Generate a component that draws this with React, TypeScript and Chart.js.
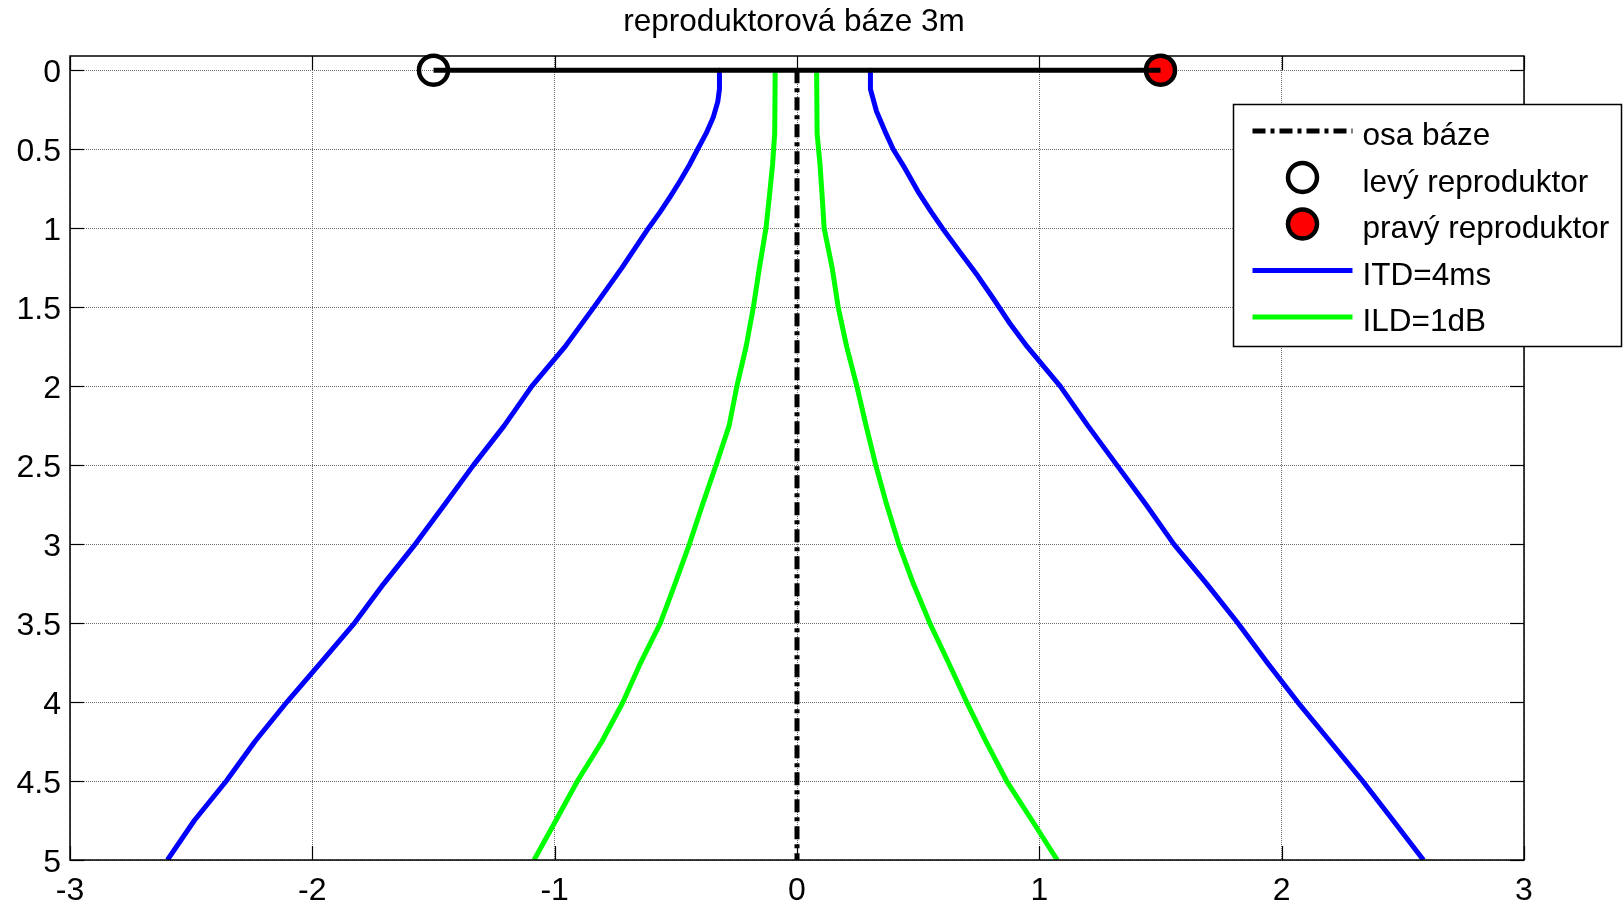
import React, { useEffect, useRef } from "react";
import { Chart, registerables } from "chart.js";

Chart.register(...registerables);

const TITLE = "reproduktorová báze 3m";

// Axis ticks and their labels
const xTicks = [-3, -2, -1, 0, 1, 2, 3];
const xTickLabels = ["-3", "-2", "-1", "0", "1", "2", "3"];
const yTicks = [0, 0.5, 1, 1.5, 2, 2.5, 3, 3.5, 4, 4.5, 5];
const yTickLabels = ["0", "0.5", "1", "1.5", "2", "2.5", "3", "3.5", "4", "4.5", "5"];

// Legend labels, in legend order
const seriesLabels = ["osa báze", "levý reproduktor", "pravý reproduktor", "ITD=4ms", "ILD=1dB"];

// Speaker base (3 m wide)
const baseX = [-1.5, 1.5];
const baseDepth = [0, 0];
const leftSpeaker = { x: -1.5, y: 0 };
const rightSpeaker = { x: 1.5, y: 0 };

// Base axis
const axisX = [0, 0];
const axisDepth = [0, 5];

// ITD = 4 ms boundary, left branch
const itdLeftDepth = [0, 0.12, 0.2, 0.3, 0.4, 0.5, 0.6, 0.7, 0.8, 0.9, 1.0, 1.25, 1.5, 1.75, 2.0, 2.25, 2.5, 2.75, 3.0, 3.25, 3.5, 3.75, 4.0, 4.25, 4.5, 4.75, 5.0];
const itdLeftX = [-0.32, -0.32, -0.327, -0.346, -0.375, -0.41, -0.444, -0.482, -0.523, -0.566, -0.613, -0.722, -0.838, -0.957, -1.094, -1.208, -1.335, -1.454, -1.575, -1.705, -1.826, -1.965, -2.105, -2.237, -2.355, -2.487, -2.598];

// ITD = 4 ms boundary, right branch
const itdRightDepth = [0, 0.12, 0.26, 0.4, 0.5, 0.62, 0.77, 0.9, 1.0, 1.15, 1.3, 1.45, 1.6, 1.75, 2.0, 2.25, 2.5, 2.75, 3.0, 3.25, 3.5, 3.75, 4.0, 4.25, 4.5, 4.75, 5.0];
const itdRightX = [0.303, 0.303, 0.328, 0.367, 0.397, 0.445, 0.5, 0.555, 0.6, 0.672, 0.745, 0.812, 0.877, 0.95, 1.086, 1.2, 1.32, 1.44, 1.555, 1.69, 1.819, 1.94, 2.066, 2.2, 2.334, 2.46, 2.585];

// ILD = 1 dB boundary, both branches
const ildDepth = [0, 0.4, 0.6, 0.8, 1.0, 1.25, 1.5, 1.75, 2.0, 2.25, 2.5, 2.75, 3.0, 3.25, 3.5, 3.75, 4.0, 4.25, 4.5, 4.75, 5.0];
const ildLeftX = [-0.09, -0.092, -0.101, -0.114, -0.128, -0.155, -0.18, -0.21, -0.248, -0.28, -0.334, -0.39, -0.444, -0.503, -0.564, -0.645, -0.718, -0.805, -0.906, -0.995, -1.085];
const ildRightX = [0.081, 0.083, 0.095, 0.104, 0.112, 0.145, 0.17, 0.205, 0.247, 0.285, 0.325, 0.37, 0.42, 0.48, 0.548, 0.625, 0.7, 0.78, 0.865, 0.97, 1.074];

const FONT = '"Liberation Sans", Arial, Helvetica, sans-serif';
const TICK_SIZE = 32;
const TEXT_SIZE = 31.5;
const LINE_W = 5;

const toPoints = (xs: number[], ys: number[]) => xs.map((x, i) => ({ x, y: ys[i] }));

const lineStyle = (color: string, dash: number[] = []) => ({
  showLine: true,
  borderColor: color,
  backgroundColor: color,
  borderWidth: LINE_W,
  borderDash: dash,
  borderCapStyle: "butt" as const,
  borderJoinStyle: "round" as const,
  pointRadius: 0,
  pointHoverRadius: 0,
  fill: false,
});

// Axes box with MATLAB-style inward ticks on all four sides
const framePlugin = {
  id: "axesFrame",
  afterDatasetsDraw(chart: any) {
    const { ctx, chartArea: a, scales } = chart;
    ctx.save();
    ctx.setLineDash([]);
    ctx.strokeStyle = "#000";
    ctx.lineWidth = 1.5;
    ctx.strokeRect(a.left, a.top, a.right - a.left, a.bottom - a.top);
    ctx.lineWidth = 1.2;
    const T = 14;
    const seg = (x1: number, y1: number, x2: number, y2: number) => {
      ctx.beginPath();
      ctx.moveTo(x1, y1);
      ctx.lineTo(x2, y2);
      ctx.stroke();
    };
    for (const v of xTicks) {
      const px = Math.round(scales.x.getPixelForValue(v)) + 0.5;
      seg(px, a.bottom, px, a.bottom - T);
      seg(px, a.top, px, a.top + T);
    }
    for (const v of yTicks) {
      const py = Math.round(scales.y.getPixelForValue(v)) + 0.5;
      seg(a.left, py, a.left + T, py);
      seg(a.right, py, a.right - T, py);
    }
    ctx.restore();
  },
};

// Title and boxed legend
const annotationPlugin = {
  id: "titleAndLegend",
  afterDraw(chart: any) {
    const { ctx, chartArea: a } = chart;
    ctx.save();
    ctx.fillStyle = "#000";
    ctx.font = `${TEXT_SIZE}px ${FONT}`;
    ctx.textAlign = "center";
    ctx.textBaseline = "alphabetic";
    ctx.fillText(TITLE, (a.left + a.right) / 2 - 3, 31);

    const box = { left: a.right - 290.5, top: a.top + 48.5, right: chart.width - 1.5, bottom: a.top + 290.5 };
    ctx.fillStyle = "#fff";
    ctx.fillRect(box.left, box.top, box.right - box.left, box.bottom - box.top);
    ctx.strokeStyle = "#000";
    ctx.lineWidth = 1.5;
    ctx.setLineDash([]);
    ctx.strokeRect(box.left, box.top, box.right - box.left, box.bottom - box.top);

    const entries = chart.data.datasets
      .filter((d: any) => d.legendKind)
      .sort((p: any, q: any) => seriesLabels.indexOf(p.label) - seriesLabels.indexOf(q.label));
    const sampleL = box.left + 19;
    const sampleR = box.left + 119;
    const textX = box.left + 129;
    entries.forEach((d: any, i: number) => {
      const baseline = box.top + 40.5 + i * 46.5;
      const cy = baseline - 14;
      if (d.legendKind === "line") {
        ctx.save();
        ctx.strokeStyle = d.borderColor;
        ctx.lineWidth = d.borderWidth;
        ctx.setLineDash(d.borderDash || []);
        ctx.lineCap = "butt";
        ctx.beginPath();
        ctx.moveTo(sampleL, cy);
        ctx.lineTo(sampleR, cy);
        ctx.stroke();
        ctx.restore();
      } else {
        ctx.save();
        ctx.beginPath();
        ctx.arc((sampleL + sampleR) / 2, cy, d.pointRadius, 0, Math.PI * 2);
        ctx.fillStyle = d.pointBackgroundColor;
        ctx.fill();
        ctx.lineWidth = d.pointBorderWidth;
        ctx.strokeStyle = d.pointBorderColor;
        ctx.stroke();
        ctx.restore();
      }
      ctx.fillStyle = "#000";
      ctx.textAlign = "left";
      ctx.fillText(d.label, textX, baseline);
    });
    ctx.restore();
  },
};

export default function App() {
  const canvasRef = useRef<HTMLCanvasElement | null>(null);

  useEffect(() => {
    const canvas = canvasRef.current;
    if (!canvas) return;
    Chart.defaults.font.family = FONT;

    const markerStyle = (fill: string) => ({
      showLine: false,
      pointStyle: "circle",
      pointRadius: 14.5,
      pointHoverRadius: 14.5,
      pointBorderWidth: 4.5,
      pointBorderColor: "#000",
      pointBackgroundColor: fill,
      clip: false as const,
    });

    const chart = new Chart(canvas, {
      type: "scatter",
      data: {
        datasets: [
          { label: "base", data: toPoints(baseX, baseDepth), ...lineStyle("#000"), clip: false },
          { label: seriesLabels[1], data: [leftSpeaker], ...markerStyle("rgba(0,0,0,0)"), legendKind: "marker" } as any,
          { label: seriesLabels[2], data: [rightSpeaker], ...markerStyle("#ff0000"), legendKind: "marker" } as any,
          { label: seriesLabels[0], data: toPoints(axisX, axisDepth), ...lineStyle("#000", [13, 5, 4, 5]), legendKind: "line" } as any,
          { label: seriesLabels[3], data: toPoints(itdLeftX, itdLeftDepth), ...lineStyle("#0000ff"), legendKind: "line" } as any,
          { label: seriesLabels[3] + " R", data: toPoints(itdRightX, itdRightDepth), ...lineStyle("#0000ff") },
          { label: seriesLabels[4], data: toPoints(ildLeftX, ildDepth), ...lineStyle("#00ff00"), legendKind: "line" } as any,
          { label: seriesLabels[4] + " R", data: toPoints(ildRightX, ildDepth), ...lineStyle("#00ff00") },
        ],
      },
      options: {
        responsive: false,
        animation: false,
        devicePixelRatio: 1,
        events: [],
        layout: { padding: { top: 56, right: 99, left: 0, bottom: 0 } },
        plugins: {
          legend: { display: false },
          tooltip: { enabled: false },
          title: { display: false },
        },
        scales: {
          x: {
            type: "linear",
            position: "bottom",
            min: -3,
            max: 3,
            afterBuildTicks: (s: any) => {
              s.ticks = xTicks.map((v) => ({ value: v }));
            },
            afterFit: (s: any) => {
              s.height = 44;
            },
            grid: { color: "#6e6e6e", lineWidth: 1, drawTicks: false },
            border: { display: false, dash: [1, 1] },
            ticks: {
              padding: 12,
              color: "#000",
              font: { size: TICK_SIZE, family: FONT },
              maxRotation: 0,
              autoSkip: false,
              callback: (_v: any, i: number) => xTickLabels[i],
            },
          },
          y: {
            type: "linear",
            position: "left",
            reverse: true,
            min: -0.09,
            max: 5,
            afterBuildTicks: (s: any) => {
              s.ticks = yTicks.map((v) => ({ value: v }));
            },
            afterFit: (s: any) => {
              s.width = 70;
            },
            grid: { color: "#6e6e6e", lineWidth: 1, drawTicks: false },
            border: { display: false, dash: [1, 1] },
            ticks: {
              padding: 9,
              labelOffset: 3,
              color: "#000",
              font: { size: TICK_SIZE, family: FONT },
              autoSkip: false,
              callback: (_v: any, i: number) => yTickLabels[i],
            },
          },
        },
      } as any,
      plugins: [framePlugin, annotationPlugin],
    });

    return () => chart.destroy();
  }, []);

  return (
    <div style={{ position: "fixed", left: 0, top: 0, width: 1623, height: 904, background: "#fff" }}>
      <canvas ref={canvasRef} width={1623} height={904} style={{ display: "block", width: 1623, height: 904 }} />
    </div>
  );
}
